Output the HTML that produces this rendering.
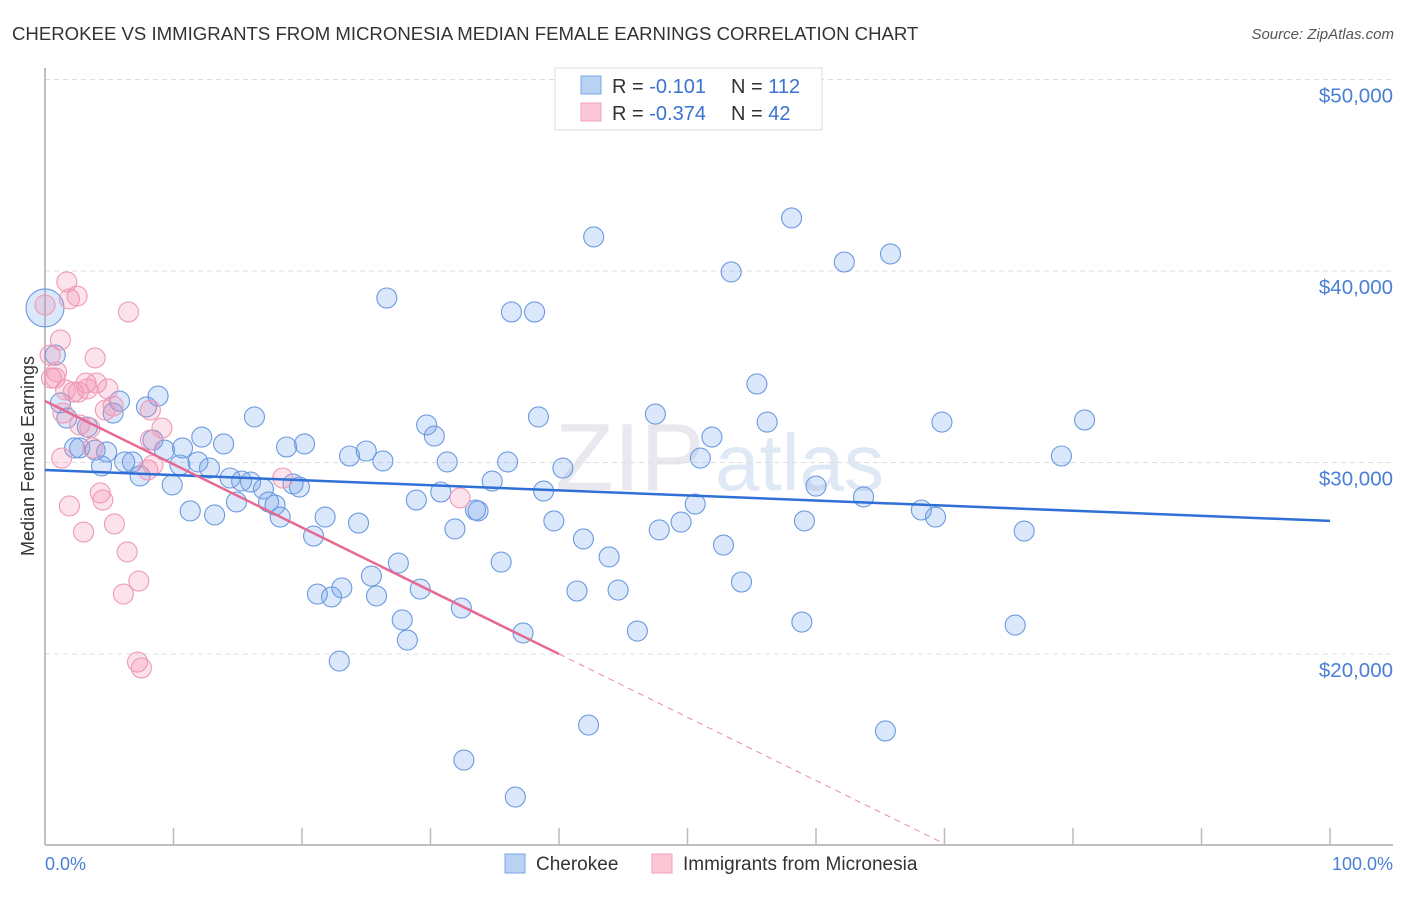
<!DOCTYPE html>
<html><head><meta charset="utf-8"><style>
body{margin:0;background:#fff;font-family:"Liberation Sans",sans-serif}
svg text{font-family:"Liberation Sans",sans-serif}
</style></head><body>
<svg id="chart" width="1406" height="892" viewBox="0 0 1406 892" xmlns="http://www.w3.org/2000/svg">
<text x="12" y="40" font-size="18.6" fill="#333">CHEROKEE VS IMMIGRANTS FROM MICRONESIA MEDIAN FEMALE EARNINGS CORRELATION CHART</text>
<text x="1394" y="39" font-size="15" fill="#555" text-anchor="end" font-style="italic">Source: ZipAtlas.com</text>
<g><text x="555" y="490" font-size="96" fill="#e8e8ee" font-family="Liberation Serif">ZIP</text><text x="715" y="490" font-size="80" fill="#dfe8f5">atlas</text></g>
<g id="grid"></g>
<line x1="45" y1="68" x2="45" y2="845" stroke="#aaa" stroke-width="1.5"/>
<line x1="45" y1="845" x2="1393" y2="845" stroke="#aaa" stroke-width="1.5"/>
<g id="xticks"></g>
<text transform="translate(34,456) rotate(-90)" font-size="18" fill="#333" text-anchor="middle">Median Female Earnings</text>
<text x="45" y="870" font-size="18" fill="#4a7fd6">0.0%</text>
<text x="1393" y="870" font-size="18" fill="#4a7fd6" text-anchor="end">100.0%</text>
<g id="points"></g>
<g id="trends"></g>
<g>
<rect x="555" y="68" width="267" height="62" fill="#fff" stroke="#ddd"/>
<rect x="581" y="76" width="20" height="18" fill="#b8d2f4" stroke="#7aa6e6"/>
<rect x="581" y="103" width="20" height="18" fill="#fcc8d8" stroke="#f0a0ba"/>
<text x="612" y="93" font-size="20" fill="#333">R = <tspan fill="#3a72d0">-0.101</tspan><tspan x="731">N = </tspan><tspan fill="#3a72d0">112</tspan></text>
<text x="612" y="120" font-size="20" fill="#333">R = <tspan fill="#3a72d0">-0.374</tspan><tspan x="731">N = </tspan><tspan fill="#3a72d0"> 42</tspan></text>
</g>
<g>
<rect x="505" y="854" width="20" height="19" fill="#b8d2f4" stroke="#7aa6e6"/>
<text x="536" y="870" font-size="19" fill="#333">Cherokee</text>
<rect x="652" y="854" width="20" height="19" fill="#fcc8d8" stroke="#f0a0ba"/>
<text x="683" y="870" font-size="19" fill="#333">Immigrants from Micronesia</text>
</g>
</svg>
<script>
const yTicks=[20,30,40,50];
const yTickLabels=["$20,000","$30,000","$40,000","$50,000"];
const xTicks=[0,10,20,30,40,50,60,70,80,90,100];
const cherokeeX=[0,0.8,1.2,1.7,2.3,2.7,3.3,3.9,4.4,4.8,5.3,5.8,6.2,6.8,7.4,7.9,8.4,8.8,9.3,9.9,10.5,10.7,11.3,11.9,12.2,12.8,13.2,13.9,14.4,14.9,15.3,16.0,16.3,17.0,17.4,17.9,18.3,18.8,19.3,19.8,20.2,20.9,21.2,21.8,22.3,22.9,23.1,23.7,24.4,25.0,25.4,25.8,26.3,26.6,27.5,27.8,28.2,28.9,29.2,29.7,30.3,30.8,31.3,31.9,32.4,32.6,33.5,33.7,34.8,35.5,36.0,36.3,36.6,37.2,38.1,38.4,38.8,39.6,40.3,41.4,41.9,42.3,42.7,43.9,44.6,46.1,47.5,47.8,49.5,50.6,51.0,51.9,52.8,53.4,54.2,55.4,56.2,58.1,58.9,59.1,60.0,62.2,63.7,65.4,65.8,68.2,69.3,69.8,75.5,76.2,79.1,80.9];
const cherokeeY=[38.07,35.61,33.11,32.32,30.76,30.76,31.85,30.65,29.82,30.55,32.58,33.21,30.03,30.03,29.30,32.90,31.17,33.47,30.65,28.83,29.87,30.76,27.47,30.03,31.33,29.71,27.26,30.97,29.19,27.94,29.03,28.98,32.38,28.62,27.94,27.78,27.15,30.81,28.88,28.72,30.97,26.16,23.13,27.15,22.98,19.63,23.45,30.34,26.84,30.60,24.07,23.03,30.08,38.59,24.75,21.78,20.73,28.04,23.39,31.96,31.38,28.46,30.03,26.53,22.40,14.46,27.52,27.47,29.03,24.80,30.03,37.86,12.53,21.10,37.86,32.38,28.51,26.95,29.71,23.29,26.01,16.29,41.78,25.07,23.34,21.20,32.53,26.48,26.89,27.83,30.23,31.33,25.69,39.95,23.76,34.10,32.11,42.77,21.67,26.95,28.77,40.47,28.20,15.98,40.89,27.52,27.15,32.11,21.51,26.42,30.34,32.22];
const microX=[0,0.4,0.5,0.9,1.2,1.3,1.4,1.7,1.9,1.9,2.2,2.5,2.6,3.0,3.2,3.3,2.7,3.5,3.7,3.9,4.0,4.3,4.5,4.9,5.3,5.4,6.1,6.4,6.5,7.2,7.5,7.3,8.0,8.2,8.4,8.2,9.1,18.5,32.3,0.8,1.6,4.7];
const microY=[38.22,35.61,34.41,34.73,36.40,30.23,32.58,39.43,38.54,27.73,33.68,38.69,33.68,26.37,34.15,33.84,31.96,31.80,30.76,35.46,34.15,28.41,28.04,33.84,32.95,26.79,23.13,25.33,37.86,19.58,19.27,23.81,29.61,31.17,29.87,32.74,31.80,29.19,28.15,34.41,33.79,32.74];
const cherokeeTrend=[29.61,26.95];
const microTrend=[33.21,-0.3303];
const NS="http://www.w3.org/2000/svg";
const xs=v=>45+v*12.85;
const ys=v=>654-(v-20)*19.15;
function mk(tag,attrs,parent){const e=document.createElementNS(NS,tag);for(const k in attrs)e.setAttribute(k,attrs[k]);parent.appendChild(e);return e;}
const grid=document.getElementById('grid');
yTicks.forEach((t,i)=>{
 const l=mk('line',{x1:45,x2:1393,y1:ys(t),y2:ys(t),stroke:'#ddd','stroke-dasharray':'5,4'},grid);
 
 
 const tx=mk('text',{x:1393,y:ys(t)+23,'font-size':20.5,fill:'#4a7fd6','text-anchor':'end'},grid);
 tx.textContent=yTickLabels[i];
 
 
});
const xt=document.getElementById('xticks');
xTicks.forEach(t=>{
 const l=mk('line',{x1:xs(t),x2:xs(t),y1:828,y2:845,stroke:'#bbb','stroke-width':1.5},xt);
 
 
});
const pts=document.getElementById('points');
cherokeeX.forEach((x,i)=>{
 const c=mk('circle',{cx:xs(x),cy:ys(cherokeeY[i]),r:i===0?19:10,fill:'rgba(110,160,235,0.25)',stroke:'#6b9ae0','stroke-width':1.1},pts);
 
 
});
microX.forEach((x,i)=>{
 const c=mk('circle',{cx:xs(x),cy:ys(microY[i]),r:10,fill:'rgba(245,140,170,0.25)',stroke:'#ee9ab6','stroke-width':1.1},pts);
 
 
});
const tr=document.getElementById('trends');
const bl=mk('line',{x1:xs(0),y1:ys(cherokeeTrend[0]),x2:xs(100),y2:ys(cherokeeTrend[1]),stroke:'#2f6fd6','stroke-width':2.5},tr);


const mt=x=>microTrend[0]+microTrend[1]*x;
const pl=mk('line',{x1:xs(0),y1:ys(mt(0)),x2:xs(40),y2:ys(mt(40)),stroke:'#e56a93','stroke-width':2.5},tr);


const pd=mk('line',{x1:xs(40),y1:ys(mt(40)),x2:xs(70),y2:ys(mt(70)),stroke:'#e98aa8','stroke-width':1,'stroke-dasharray':'6,5'},tr);


</script>
</body></html>
